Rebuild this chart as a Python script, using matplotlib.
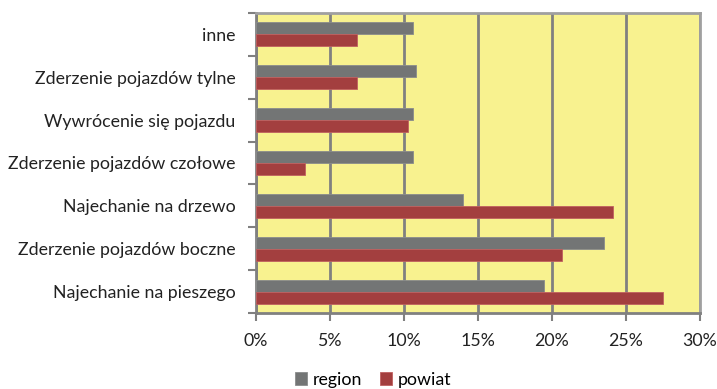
import numpy as np
import matplotlib.pyplot as plt

plt.rcParams['font.family'] = ['Lato', 'DejaVu Sans']

categories = ["Najechanie na pieszego", "Zderzenie pojazdów boczne", "Najechanie na drzewo",
              "Zderzenie pojazdów czołowe", "Wywrócenie się pojazdu", "Zderzenie pojazdów tylne", "inne"]
region = [19.5, 23.5, 14.0, 10.6, 10.65, 10.8, 10.65]
powiat = [27.5, 20.65, 24.1, 3.3, 10.3, 6.85, 6.85]
xticks = [0, 5, 10, 15, 20, 25, 30]

fs = 12.8

fig = plt.figure(figsize=(7.17, 3.89), dpi=100)
ax = fig.add_axes([0.3566, 0.1946, 0.6197, 0.7728])
ax.set_facecolor('#F8F28F')

y = np.arange(len(categories))
h = 0.28
ax.barh(y + h / 2, region, height=h, color='#737575', edgecolor='#8a8c8c', linewidth=0.6, label='region', zorder=3)
ax.barh(y - h / 2, powiat, height=h, color='#A33F3F', edgecolor='#c06060', linewidth=0.6, label='powiat', zorder=3)

ax.set_xlim(0, 30)
ax.set_ylim(-0.5, len(categories) - 0.5)
ax.set_xticks(xticks)
ax.set_xticklabels([f"{t}%" for t in xticks], fontsize=fs, color='#222222')
ax.set_yticks(y)
ax.set_yticklabels(categories, fontsize=fs, color='#222222')
ax.set_yticks(np.arange(len(categories) + 1) - 0.5, minor=True)
ax.tick_params(axis='y', which='major', length=0, pad=14.5)
ax.tick_params(axis='y', which='minor', length=6, width=1.5, color='#808080')
ax.tick_params(axis='x', length=6, width=1.5, color='#808080', pad=8)
ax.grid(axis='x', color='#808080', linewidth=2, zorder=1)

for side in ['left', 'bottom']:
    ax.spines[side].set_color('#808080')
    ax.spines[side].set_linewidth(2)
for side in ['top', 'right']:
    ax.spines[side].set_color('#a0a0a0')
    ax.spines[side].set_linewidth(2)

fig.legend(loc='lower center', bbox_to_anchor=(0.52, -0.038), ncol=2, frameon=False, fontsize=fs,
           handlelength=0.7, handleheight=0.7, handletextpad=0.3, columnspacing=1.0)

fig.savefig('out.png', dpi=100)
